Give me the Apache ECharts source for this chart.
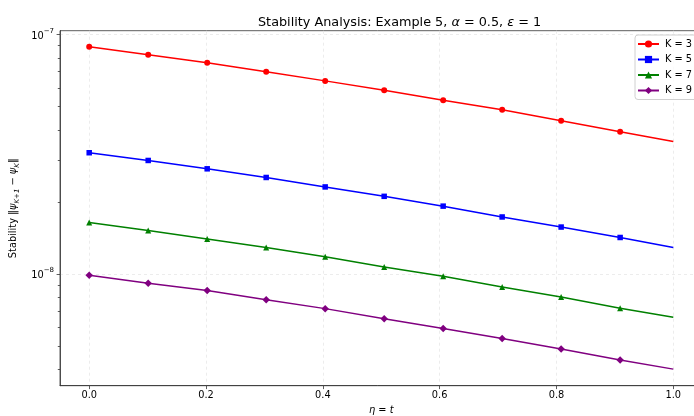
<!DOCTYPE html>
<html>
<head>
<meta charset="utf-8">
<script src="https://cdn.jsdelivr.net/npm/echarts@6/dist/echarts.min.js"></script>
<style>html,body{margin:0;padding:0;background:#fff}#c{width:694px;height:416px}</style>
</head>
<body>
<div id="c"></div>
<script>
// ---- data ----
const xVals = [0, 0.101, 0.202, 0.303, 0.404, 0.505, 0.606, 0.707, 0.808, 0.909, 1.0];
const k3 = [8.91e-8, 8.25e-8, 7.64e-8, 7.00e-8, 6.41e-8, 5.86e-8, 5.32e-8, 4.85e-8, 4.37e-8, 3.93e-8, 3.58e-8];
const k5 = [3.21e-8, 2.98e-8, 2.75e-8, 2.53e-8, 2.31e-8, 2.11e-8, 1.92e-8, 1.73e-8, 1.57e-8, 1.42e-8, 1.29e-8];
const k7 = [1.64e-8, 1.52e-8, 1.40e-8, 1.29e-8, 1.18e-8, 1.07e-8, 9.78e-9, 8.82e-9, 8.01e-9, 7.19e-9, 6.59e-9];
const k9 = [9.88e-9, 9.14e-9, 8.52e-9, 7.79e-9, 7.16e-9, 6.50e-9, 5.91e-9, 5.37e-9, 4.85e-9, 4.37e-9, 4.00e-9];
const seriesNames = ['K = 3', 'K = 5', 'K = 7', 'K = 9'];
const xTicks = [0, 0.2, 0.4, 0.6, 0.8, 1.0];
const yMajorTicks = [1e-8, 1e-7];
const yMinorTicks = [4e-9, 5e-9, 6e-9, 7e-9, 8e-9, 9e-9, 2e-8, 3e-8, 4e-8, 5e-8, 6e-8, 7e-8, 8e-8, 9e-8];

const FONT = 'DejaVu Sans';
const colors = ['#ff0000', '#0000ff', '#008000', '#800080'];
const symbols = ['circle', 'rect', 'triangle', 'diamond'];
const symSizes = [6, 5.5, 6, 7.5];
const allVals = [k3, k5, k7, k9];
const Y_MIN = 3.41e-9, Y_MAX = 1.039e-7;
const GRID_LEFT = 60, GRID_RIGHT = -8.5, CHART_W = 694;

function buildData(vals) {
  return xVals.map((x, i) => i < xVals.length - 1 ? [x, vals[i]] : { value: [x, vals[i]], symbol: 'none' });
}

const chart = echarts.init(document.getElementById('c'), null, { renderer: 'canvas' });
const sup = { fontFamily: FONT, fontSize: 7, verticalAlign: 'top', color: '#000' };
const option = {
  animation: false,
  backgroundColor: '#fff',
  title: {
    text: '{n|Stability Analysis: Example 5, }{i|α}{n| = 0.5, }{i|ε}{n| = 1}',
    left: 253, top: 11,
    textStyle: {
      fontWeight: 'normal',
      rich: {
        n: { fontFamily: FONT, fontSize: 12.8, fontWeight: 'normal', color: '#000' },
        i: { fontFamily: FONT, fontSize: 12.8, fontWeight: 'normal', fontStyle: 'italic', color: '#000' }
      }
    }
  },
  legend: {
    data: seriesNames,
    orient: 'vertical',
    left: 635, top: 35,
    itemWidth: 21, itemHeight: 9, itemGap: 5.5,
    padding: [4, 5, 4, 2],
    borderColor: '#d0d0d0', borderWidth: 1, borderRadius: 3,
    backgroundColor: 'rgba(255,255,255,0.8)',
    textStyle: { fontFamily: FONT, fontSize: 9.8, color: '#000', padding: [0, 0, 0, 1] }
  },
  grid: { left: GRID_LEFT, top: 30.7, right: GRID_RIGHT, bottom: 30.3, containLabel: false, outerBoundsMode: 'none',
          show: true, borderColor: '#333', borderWidth: 0.8 },
  xAxis: {
    type: 'value', min: -0.05, max: 1.05,
    name: '{i|η}{n| = }{i|t}', nameLocation: 'middle', nameGap: 19,
    nameTextStyle: { rich: {
      i: { fontFamily: FONT, fontSize: 9.8, fontStyle: 'italic', color: '#000' },
      n: { fontFamily: FONT, fontSize: 9.8, color: '#000' } } },
    axisLine: { show: true, onZero: false, lineStyle: { color: '#333', width: 0.8 } },
    axisTick: { show: true, length: 3.4, lineStyle: { color: '#333', width: 0.8 }, customValues: xTicks },
    axisLabel: { customValues: xTicks, margin: 5, fontFamily: FONT, fontSize: 9.8, color: '#000',
                 formatter: v => v.toFixed(1) },
    splitLine: { show: true, lineStyle: { color: '#e4e4e4', type: [3, 3], width: 0.7 } }
  },
  yAxis: [{
    type: 'log', logBase: 10, min: Y_MIN, max: Y_MAX, position: 'left',
    name: '{n|Stability ‖}{i|ψ}{s|K+1}{n| − }{i|ψ}{s|K}{n|‖}', nameLocation: 'middle', nameGap: 35,
    nameTextStyle: { rich: {
      n: { fontFamily: FONT, fontSize: 9.8, color: '#000', lineHeight: 13 },
      i: { fontFamily: FONT, fontSize: 9.8, fontStyle: 'italic', color: '#000', lineHeight: 13 },
      s: { fontFamily: FONT, fontSize: 7, fontStyle: 'italic', color: '#000', verticalAlign: 'bottom', lineHeight: 13 } } },
    axisLine: { show: true, onZero: false, lineStyle: { color: '#333', width: 0.8 } },
    axisTick: { show: true, length: 3.4, lineStyle: { color: '#333', width: 0.8 }, customValues: yMajorTicks },
    axisLabel: { customValues: yMajorTicks, margin: 6, fontFamily: FONT, color: '#000',
      formatter: v => '{b|10}{s|−' + Math.abs(Math.round(Math.log10(v))) + '}',
      rich: { b: { fontFamily: FONT, fontSize: 9.8, color: '#000', lineHeight: 14, verticalAlign: 'bottom' }, s: sup } },
    splitLine: { show: true, lineStyle: { color: '#e4e4e4', type: [3, 3], width: 0.7 } },
    minorTick: { show: false }
  }, {
    // minor-tick axis: sits at the right edge of the grid, shifted back onto the left spine
    type: 'log', logBase: 10, min: Y_MIN, max: Y_MAX, position: 'right',
    offset: -(CHART_W - GRID_LEFT - GRID_RIGHT),
    axisLine: { show: false, onZero: false },
    axisTick: { show: true, inside: true, length: 2.2, lineStyle: { color: '#333', width: 0.8 }, customValues: yMinorTicks },
    axisLabel: { show: false },
    splitLine: { show: false },
    minorTick: { show: false }
  }],
  series: seriesNames.map((name, k) => ({
    name, type: 'line', yAxisIndex: k < 2 ? 0 : 1,
    data: buildData(allVals[k]),
    symbol: symbols[k], symbolSize: symSizes[k], showAllSymbol: true,
    lineStyle: { color: colors[k], width: 1.5 },
    itemStyle: { color: colors[k], borderWidth: 0 },
    emphasis: { disabled: true }
  }))
};
chart.setOption(option);
</script>
</body>
</html>
